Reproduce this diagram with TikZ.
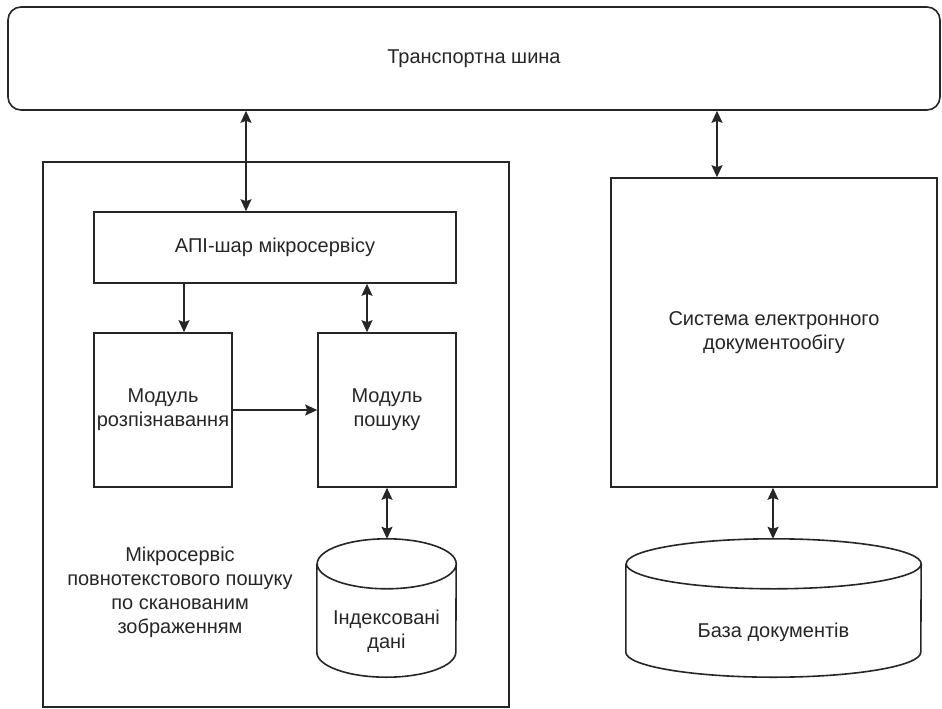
\documentclass[tikz,border=0pt]{standalone}
\usepackage{fontspec}
\setmainfont{Liberation Sans}
\usetikzlibrary{arrows.meta,calc}
\begin{document}
\begin{tikzpicture}[x=1pt,y=-1pt,
  ln/.style={draw=black!85,line width=1.6pt},
  txt/.style={text=black!85,font=\fontsize{20pt}{24pt}\selectfont,align=center,inner sep=0pt},
  boxnode/.style={ln,txt,rectangle,minimum width=#1},
  cylarea/.style={rectangle,inner sep=0pt},
  tip/.style={-{Stealth[length=12pt,width=11pt,inset=2pt]}},
  both/.style={{Stealth[length=12pt,width=11pt,inset=2pt]}-{Stealth[length=12pt,width=11pt,inset=2pt]}}
]
\useasboundingbox[fill=white] (0,0) rectangle (942,709);

% transport bus
\node[ln,txt,rounded corners=13pt,minimum width=932pt,minimum height=103pt] (bus) at (474,58.5) {Транспортна шина};

% microservice container
\node[ln,minimum width=466pt,minimum height=545pt,inner sep=0pt] (outer) at (276,434.5) {};
\node[txt] (mslabel) at (180,592) {Мікросервіс\\повнотекстового пошуку\\по сканованим\\зображенням};

\node[ln,txt,minimum width=362pt,minimum height=71pt] (api) at (275,247.5) {АПІ-шар мікросервісу};
\node[ln,txt,minimum width=138pt,minimum height=154pt] (rec) at (163,410) {Модуль\\розпізнавання};
\node[ln,txt,minimum width=138pt,minimum height=154pt] (srch) at (387,410) {Модуль\\пошуку};

% indexed data cylinder
\node[cylarea,minimum width=139pt,minimum height=138pt] (idx) at (386.5,608) {};
\draw[ln] ([yshift=-25pt]idx.north west) -- ([yshift=25pt]idx.south west)
  arc[start angle=180,end angle=360,x radius=69.5pt,y radius=25pt]
  -- ([yshift=-25pt]idx.north east)
  arc[start angle=0,end angle=360,x radius=69.5pt,y radius=25pt];
\node[txt] (idxtext) at (386.5,631.5) {Індексовані\\дані};

% EDMS
\node[ln,txt,minimum width=326pt,minimum height=309pt] (sed) at (774,332.5) {Система електронного\\документообігу};

% documents DB cylinder
\node[cylarea,minimum width=295pt,minimum height=138pt] (db) at (773.5,608) {};
\draw[ln] ([yshift=-25pt]db.north west) -- ([yshift=25pt]db.south west)
  arc[start angle=180,end angle=360,x radius=147.5pt,y radius=25pt]
  -- ([yshift=-25pt]db.north east)
  arc[start angle=0,end angle=360,x radius=147.5pt,y radius=25pt];
\node[txt] (dbtext) at (773.5,632) {База документів};

% connectors
\coordinate (x1) at (246,0);
\coordinate (x2) at (717,0);
\coordinate (x3) at (184,0);
\coordinate (x4) at (367,0);
\coordinate (x5) at (773,0);
\draw[ln,both] (bus.south -| x1) -- (api.north -| x1);
\draw[ln,both] (bus.south -| x2) -- (sed.north -| x2);
\draw[ln,tip] (api.south -| x3) -- (rec.north -| x3);
\draw[ln,both] (api.south -| x4) -- (srch.north -| x4);
\draw[ln,tip] (rec.east) -- (srch.west);
\draw[ln,both] (srch.south) -- (idx.north -| srch.south);
\draw[ln,both] (sed.south -| x5) -- (db.north -| x5);
\end{tikzpicture}
\end{document}
